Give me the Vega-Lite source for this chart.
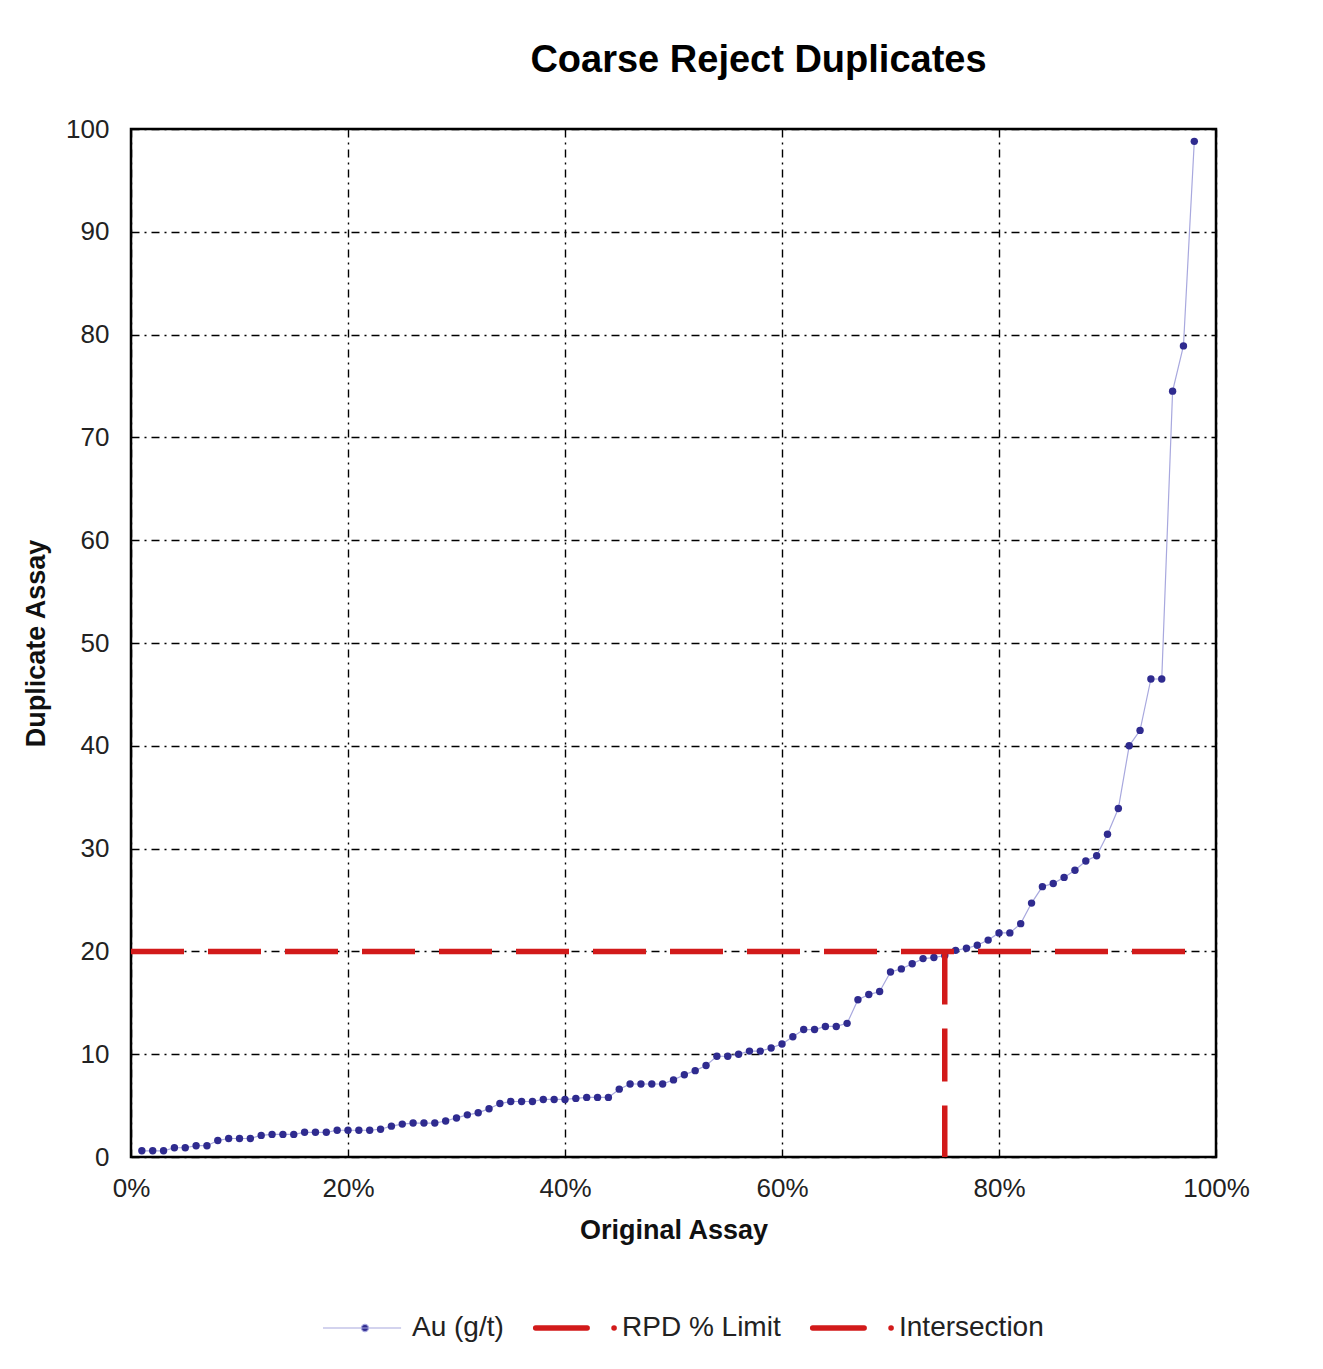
{
  "$schema": "https://vega.github.io/schema/vega-lite/v6.json",
  "autosize": "none",
  "width": 1085,
  "height": 1028,
  "padding": {"left": 131, "top": 129, "right": 107, "bottom": 212},
  "background": "white",
  "title": {"text": "Coarse Reject Duplicates", "font": "Liberation Sans", "fontSize": 38, "fontWeight": "bold", "color": "black", "anchor": "middle", "dx": 85, "offset": 36},
  "datasets": {
    "au": [
      {"x":0.01,"y":0.6,"series":"Au (g/t)"},{"x":0.02,"y":0.6,"series":"Au (g/t)"},{"x":0.03,"y":0.6,"series":"Au (g/t)"},{"x":0.04,"y":0.9,"series":"Au (g/t)"},{"x":0.05,"y":0.9,"series":"Au (g/t)"},
      {"x":0.06,"y":1.1,"series":"Au (g/t)"},{"x":0.07,"y":1.1,"series":"Au (g/t)"},{"x":0.08,"y":1.6,"series":"Au (g/t)"},{"x":0.09,"y":1.8,"series":"Au (g/t)"},{"x":0.10,"y":1.8,"series":"Au (g/t)"},
      {"x":0.11,"y":1.8,"series":"Au (g/t)"},{"x":0.12,"y":2.1,"series":"Au (g/t)"},{"x":0.13,"y":2.2,"series":"Au (g/t)"},{"x":0.14,"y":2.2,"series":"Au (g/t)"},{"x":0.15,"y":2.2,"series":"Au (g/t)"},
      {"x":0.16,"y":2.4,"series":"Au (g/t)"},{"x":0.17,"y":2.4,"series":"Au (g/t)"},{"x":0.18,"y":2.4,"series":"Au (g/t)"},{"x":0.19,"y":2.6,"series":"Au (g/t)"},{"x":0.20,"y":2.6,"series":"Au (g/t)"},
      {"x":0.21,"y":2.6,"series":"Au (g/t)"},{"x":0.22,"y":2.6,"series":"Au (g/t)"},{"x":0.23,"y":2.7,"series":"Au (g/t)"},{"x":0.24,"y":3.0,"series":"Au (g/t)"},{"x":0.25,"y":3.2,"series":"Au (g/t)"},
      {"x":0.26,"y":3.3,"series":"Au (g/t)"},{"x":0.27,"y":3.3,"series":"Au (g/t)"},{"x":0.28,"y":3.3,"series":"Au (g/t)"},{"x":0.29,"y":3.5,"series":"Au (g/t)"},{"x":0.30,"y":3.8,"series":"Au (g/t)"},
      {"x":0.31,"y":4.1,"series":"Au (g/t)"},{"x":0.32,"y":4.3,"series":"Au (g/t)"},{"x":0.33,"y":4.7,"series":"Au (g/t)"},{"x":0.34,"y":5.2,"series":"Au (g/t)"},{"x":0.35,"y":5.4,"series":"Au (g/t)"},
      {"x":0.36,"y":5.4,"series":"Au (g/t)"},{"x":0.37,"y":5.4,"series":"Au (g/t)"},{"x":0.38,"y":5.6,"series":"Au (g/t)"},{"x":0.39,"y":5.6,"series":"Au (g/t)"},{"x":0.40,"y":5.6,"series":"Au (g/t)"},
      {"x":0.41,"y":5.7,"series":"Au (g/t)"},{"x":0.42,"y":5.8,"series":"Au (g/t)"},{"x":0.43,"y":5.8,"series":"Au (g/t)"},{"x":0.44,"y":5.8,"series":"Au (g/t)"},{"x":0.45,"y":6.6,"series":"Au (g/t)"},
      {"x":0.46,"y":7.1,"series":"Au (g/t)"},{"x":0.47,"y":7.1,"series":"Au (g/t)"},{"x":0.48,"y":7.1,"series":"Au (g/t)"},{"x":0.49,"y":7.1,"series":"Au (g/t)"},{"x":0.50,"y":7.5,"series":"Au (g/t)"},
      {"x":0.51,"y":8.0,"series":"Au (g/t)"},{"x":0.52,"y":8.4,"series":"Au (g/t)"},{"x":0.53,"y":8.9,"series":"Au (g/t)"},{"x":0.54,"y":9.8,"series":"Au (g/t)"},{"x":0.55,"y":9.8,"series":"Au (g/t)"},
      {"x":0.56,"y":10.0,"series":"Au (g/t)"},{"x":0.57,"y":10.3,"series":"Au (g/t)"},{"x":0.58,"y":10.3,"series":"Au (g/t)"},{"x":0.59,"y":10.6,"series":"Au (g/t)"},{"x":0.60,"y":11.0,"series":"Au (g/t)"},
      {"x":0.61,"y":11.7,"series":"Au (g/t)"},{"x":0.62,"y":12.4,"series":"Au (g/t)"},{"x":0.63,"y":12.4,"series":"Au (g/t)"},{"x":0.64,"y":12.7,"series":"Au (g/t)"},{"x":0.65,"y":12.7,"series":"Au (g/t)"},
      {"x":0.66,"y":13.0,"series":"Au (g/t)"},{"x":0.67,"y":15.3,"series":"Au (g/t)"},{"x":0.68,"y":15.8,"series":"Au (g/t)"},{"x":0.69,"y":16.1,"series":"Au (g/t)"},{"x":0.70,"y":18.0,"series":"Au (g/t)"},
      {"x":0.71,"y":18.3,"series":"Au (g/t)"},{"x":0.72,"y":18.8,"series":"Au (g/t)"},{"x":0.73,"y":19.3,"series":"Au (g/t)"},{"x":0.74,"y":19.4,"series":"Au (g/t)"},{"x":0.75,"y":19.6,"series":"Au (g/t)"},
      {"x":0.76,"y":20.1,"series":"Au (g/t)"},{"x":0.77,"y":20.3,"series":"Au (g/t)"},{"x":0.78,"y":20.6,"series":"Au (g/t)"},{"x":0.79,"y":21.1,"series":"Au (g/t)"},{"x":0.80,"y":21.8,"series":"Au (g/t)"},
      {"x":0.81,"y":21.8,"series":"Au (g/t)"},{"x":0.82,"y":22.7,"series":"Au (g/t)"},{"x":0.83,"y":24.7,"series":"Au (g/t)"},{"x":0.84,"y":26.3,"series":"Au (g/t)"},{"x":0.85,"y":26.6,"series":"Au (g/t)"},
      {"x":0.86,"y":27.2,"series":"Au (g/t)"},{"x":0.87,"y":27.9,"series":"Au (g/t)"},{"x":0.88,"y":28.8,"series":"Au (g/t)"},{"x":0.89,"y":29.3,"series":"Au (g/t)"},{"x":0.90,"y":31.4,"series":"Au (g/t)"},
      {"x":0.91,"y":33.9,"series":"Au (g/t)"},{"x":0.92,"y":40.0,"series":"Au (g/t)"},{"x":0.93,"y":41.5,"series":"Au (g/t)"},{"x":0.94,"y":46.5,"series":"Au (g/t)"},{"x":0.95,"y":46.5,"series":"Au (g/t)"},
      {"x":0.96,"y":74.5,"series":"Au (g/t)"},{"x":0.97,"y":78.9,"series":"Au (g/t)"},{"x":0.98,"y":98.8,"series":"Au (g/t)"}
    ],
    "rpd": [
      {"x":0.0,"y":20,"series":"RPD % Limit"},{"x":0.98,"y":20,"series":"RPD % Limit"}
    ],
    "inter": [
      {"x":0.75,"y":20,"series":"Intersection"},{"x":0.75,"y":0,"series":"Intersection"}
    ]
  },
  "config": {
    "view": {"stroke": "black", "strokeWidth": 2.5},
    "font": "Liberation Sans",
    "axis": {
      "domain": false, "ticks": false, "tickSize": 0,
      "grid": true, "gridColor": "black", "gridDash": [8, 5, 2, 5], "gridWidth": 1.4, "gridOpacity": 1,
      "labelFont": "Liberation Sans", "labelFontSize": 26, "labelColor": "#222",
      "labelFlush": false, "labelOverlap": false, "labelBound": false,
      "titleFont": "Liberation Sans", "titleFontSize": 27, "titleFontWeight": "bold", "titleColor": "#111"
    }
  },
  "layer": [
    {
      "data": {"name": "au"},
      "mark": {"type": "line", "strokeWidth": 1.2},
      "encoding": {
        "x": {"field": "x", "type": "quantitative", "scale": {"domain": [0, 1], "nice": false}, "axis": {"values": [0, 0.2, 0.4, 0.6, 0.8, 1], "format": ".0%", "title": "Original Assay", "labelPadding": 18, "titlePadding": 16}},
        "y": {"field": "y", "type": "quantitative", "scale": {"domain": [0, 100], "nice": false}, "axis": {"values": [0, 10, 20, 30, 40, 50, 60, 70, 80, 90, 100], "title": "Duplicate Assay", "labelPadding": 22, "titlePadding": 15}},
        "color": {
          "field": "series", "type": "nominal",
          "scale": {"domain": ["Au (g/t)", "RPD % Limit", "Intersection"], "range": ["#a8a8de", "#d21a1a", "#d21a1a"]},
          "legend": {
            "title": null, "orient": "none", "direction": "horizontal", "columns": 3,
            "legendX": 183, "legendY": 1185, "padding": 0,
            "columnPadding": 20, "labelOffset": 70,
            "labelFont": "Liberation Sans", "labelFontSize": 28, "labelColor": "#222",
            "symbolStrokeWidth": 5,
            "encode": {
              "symbols": {
                "update": {
                  "shape": {"signal": "datum.value === 'Au (g/t)' ? 'M-0.12,0L1.74,0M0.795,0a0.085,0.085 0 1,0 0.17,0a0.085,0.085 0 1,0 -0.17,0' : 'M-0.055,0L1.17,0M1.81,0L1.812,0'"},
                  "fill": {"signal": "datum.value === 'Au (g/t)' ? '#2f2b8f' : '#d21a1a'"},
                  "fillOpacity": {"value": 1},
                  "strokeWidth": {"signal": "datum.value === 'Au (g/t)' ? 1.2 : 5.5"},
                  "strokeCap": {"signal": "datum.value === 'Au (g/t)' ? 'butt' : 'round'"},
                  "strokeDash": {"value": []},
                  "size": {"value": 7056}
                }
              }
            }
          }
        }
      }
    },
    {
      "data": {"name": "au"},
      "mark": {"type": "point", "filled": true, "size": 55, "color": "#2f2b8f", "opacity": 1},
      "encoding": {
        "x": {"field": "x", "type": "quantitative"},
        "y": {"field": "y", "type": "quantitative"}
      }
    },
    {
      "data": {"name": "rpd"},
      "mark": {"type": "line", "strokeWidth": 5.5, "strokeDash": [53, 24]},
      "encoding": {
        "x": {"field": "x", "type": "quantitative"},
        "y": {"field": "y", "type": "quantitative"},
        "color": {"field": "series", "type": "nominal"}
      }
    },
    {
      "data": {"name": "inter"},
      "mark": {"type": "line", "strokeWidth": 5.5, "strokeDash": [53, 24]},
      "encoding": {
        "x": {"field": "x", "type": "quantitative"},
        "y": {"field": "y", "type": "quantitative"},
        "color": {"field": "series", "type": "nominal"},
        "order": {"field": "y", "type": "quantitative", "sort": "descending"}
      }
    }
  ]
}
